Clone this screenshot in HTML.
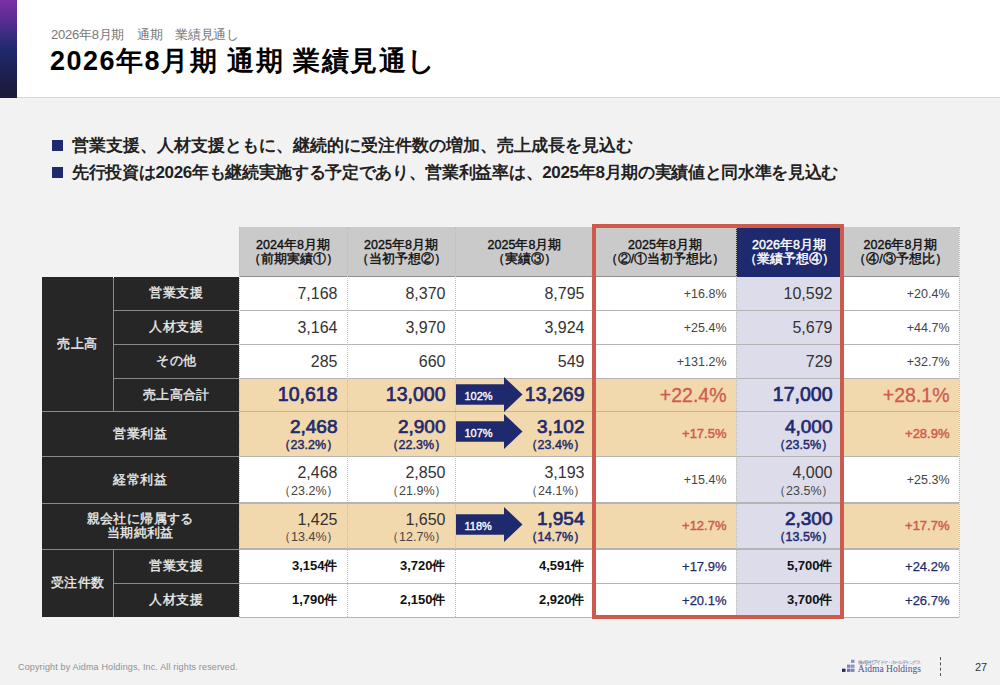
<!DOCTYPE html>
<html lang="ja"><head><meta charset="utf-8">
<style>
*{margin:0;padding:0;box-sizing:border-box}
html,body{width:1000px;height:685px;overflow:hidden}
body{background:#f2f2f2;font-family:"Liberation Sans",sans-serif;position:relative;color:#222}
.a{position:absolute;white-space:nowrap}
#hdr{left:0;top:0;width:1000px;height:98.4px;background:#fff;border-bottom:1.5px solid #d6d6d6}
#bar{left:0;top:0;width:17px;height:97.6px;background:linear-gradient(#7b30a6 0%,#4f2c8e 25%,#1f2a6e 50%,#1d2050 75%,#1b1a38 100%)}
#sub{left:51px;top:26px;font-size:13px;color:#777;letter-spacing:-0.25px}
#ttl{left:50px;top:43px;font-size:27px;font-weight:bold;color:#000;letter-spacing:1.5px}
.bl{left:52px;width:11px;height:11px;background:#1f2a6e}
.bt{left:72px;font-size:17px;font-weight:bold;color:#222}
#copy{left:18px;top:661.5px;font-size:9px;color:#909090;letter-spacing:0.15px}
#pg{left:975px;top:661px;font-size:11px;color:#333}
/* table */
.c{position:absolute;display:flex;align-items:center;justify-content:center;text-align:center}
.lab{background:#262626;color:#ececec;font-weight:normal;-webkit-text-stroke:0.35px #ececec;font-size:12.5px;letter-spacing:0.4px;line-height:14.5px}
.hd{background:#cacaca;color:#111;font-weight:normal;-webkit-text-stroke:0.4px #111;font-size:12.5px;line-height:14px}
.d{justify-content:center;padding-right:9.5px;text-align:right;flex-direction:column;align-items:flex-end}
.num{font-size:16px;color:#333}
.pct{font-size:12.5px;color:#444}
.bign{font-size:19.5px;font-weight:normal;color:#1f2a6e;-webkit-text-stroke:0.7px #1f2a6e;position:relative;top:-0.5px}
.bigr{font-size:19.5px;color:#cf5a50;-webkit-text-stroke:0.3px #cf5a50}
.redp{font-size:13px;font-weight:normal;color:#cf5a50;-webkit-text-stroke:0.45px #cf5a50;position:relative;top:-1px}
.bign2{font-size:19px;font-weight:normal;color:#1f2a6e;-webkit-text-stroke:0.7px #1f2a6e;line-height:20px}
.bigp{font-size:12.5px;font-weight:normal;color:#1f2a6e;-webkit-text-stroke:0.45px #1f2a6e;line-height:15px;position:relative;top:1.2px;left:1.5px}
.num2{font-size:16px;color:#333;line-height:18px;position:relative;top:1px}
.nump{font-size:12.5px;color:#444;line-height:15px;position:relative;top:2.3px;left:2px}
.bluep{font-size:13px;color:#1f2a6e;-webkit-text-stroke:0.25px #1f2a6e}
.ord{font-size:13px;font-weight:bold;color:#111}
</style></head><body>
<div class="a" id="hdr"></div>
<div class="a" id="bar"></div>
<div class="a" id="sub">2026年8月期　通期　業績見通し</div>
<div class="a" id="ttl">2026年8月期 通期 業績見通し</div>
<div class="a bl" style="top:140px"></div>
<div class="a bt" style="top:134px">営業支援、人材支援ともに、継続的に受注件数の増加、売上成長を見込む</div>
<div class="a bl" style="top:167px"></div>
<div class="a bt" style="top:161px;letter-spacing:-0.32px">先行投資は2026年も継続実施する予定であり、営業利益率は、2025年8月期の実績値と同水準を見込む</div>

<div class="c hd" style="left:239px;top:226.5px;width:108px;height:50.3px;">2024年8月期<br>（前期実績①）</div>
<div class="c hd" style="left:347px;top:226.5px;width:108px;height:50.3px;">2025年8月期<br>（当初予想②）</div>
<div class="c hd" style="left:455px;top:226.5px;width:139px;height:50.3px;">2025年8月期<br>（実績③）</div>
<div class="c hd" style="left:594px;top:226.5px;width:142px;height:50.3px;">2025年8月期<br>（②/①当初予想比）</div>
<div class="c hd" style="left:736px;top:226.5px;width:106px;height:50.3px;background:#1f2a6e;color:#fff;-webkit-text-stroke:0.4px #fff;">2026年8月期<br>（業績予想④）</div>
<div class="c hd" style="left:842px;top:226.5px;width:117px;height:50.3px;">2026年8月期<br>（④/③予想比）</div>
<div class="c " style="left:239px;top:276.8px;width:108px;height:33.9px;background:#fff;"></div>
<div class="c " style="left:347px;top:276.8px;width:108px;height:33.9px;background:#fff;"></div>
<div class="c " style="left:455px;top:276.8px;width:139px;height:33.9px;background:#fff;"></div>
<div class="c " style="left:594px;top:276.8px;width:142px;height:33.9px;background:#fff;"></div>
<div class="c " style="left:736px;top:276.8px;width:106px;height:33.9px;background:#dcdcea;"></div>
<div class="c " style="left:842px;top:276.8px;width:117px;height:33.9px;background:#fff;"></div>
<div class="c " style="left:239px;top:310.7px;width:108px;height:33.9px;background:#fff;"></div>
<div class="c " style="left:347px;top:310.7px;width:108px;height:33.9px;background:#fff;"></div>
<div class="c " style="left:455px;top:310.7px;width:139px;height:33.9px;background:#fff;"></div>
<div class="c " style="left:594px;top:310.7px;width:142px;height:33.9px;background:#fff;"></div>
<div class="c " style="left:736px;top:310.7px;width:106px;height:33.9px;background:#dcdcea;"></div>
<div class="c " style="left:842px;top:310.7px;width:117px;height:33.9px;background:#fff;"></div>
<div class="c " style="left:239px;top:344.6px;width:108px;height:33.9px;background:#fff;"></div>
<div class="c " style="left:347px;top:344.6px;width:108px;height:33.9px;background:#fff;"></div>
<div class="c " style="left:455px;top:344.6px;width:139px;height:33.9px;background:#fff;"></div>
<div class="c " style="left:594px;top:344.6px;width:142px;height:33.9px;background:#fff;"></div>
<div class="c " style="left:736px;top:344.6px;width:106px;height:33.9px;background:#dcdcea;"></div>
<div class="c " style="left:842px;top:344.6px;width:117px;height:33.9px;background:#fff;"></div>
<div class="c " style="left:239px;top:378.5px;width:108px;height:33.2px;background:#f2d8ad;"></div>
<div class="c " style="left:347px;top:378.5px;width:108px;height:33.2px;background:#f2d8ad;"></div>
<div class="c " style="left:455px;top:378.5px;width:139px;height:33.2px;background:#f2d8ad;"></div>
<div class="c " style="left:594px;top:378.5px;width:142px;height:33.2px;background:#f2d8ad;"></div>
<div class="c " style="left:736px;top:378.5px;width:106px;height:33.2px;background:#dcdcea;"></div>
<div class="c " style="left:842px;top:378.5px;width:117px;height:33.2px;background:#f2d8ad;"></div>
<div class="c " style="left:239px;top:411.7px;width:108px;height:45.1px;background:#f2d8ad;"></div>
<div class="c " style="left:347px;top:411.7px;width:108px;height:45.1px;background:#f2d8ad;"></div>
<div class="c " style="left:455px;top:411.7px;width:139px;height:45.1px;background:#f2d8ad;"></div>
<div class="c " style="left:594px;top:411.7px;width:142px;height:45.1px;background:#f2d8ad;"></div>
<div class="c " style="left:736px;top:411.7px;width:106px;height:45.1px;background:#dcdcea;"></div>
<div class="c " style="left:842px;top:411.7px;width:117px;height:45.1px;background:#f2d8ad;"></div>
<div class="c " style="left:239px;top:456.8px;width:108px;height:46.2px;background:#fff;"></div>
<div class="c " style="left:347px;top:456.8px;width:108px;height:46.2px;background:#fff;"></div>
<div class="c " style="left:455px;top:456.8px;width:139px;height:46.2px;background:#fff;"></div>
<div class="c " style="left:594px;top:456.8px;width:142px;height:46.2px;background:#fff;"></div>
<div class="c " style="left:736px;top:456.8px;width:106px;height:46.2px;background:#dcdcea;"></div>
<div class="c " style="left:842px;top:456.8px;width:117px;height:46.2px;background:#fff;"></div>
<div class="c " style="left:239px;top:503px;width:108px;height:46px;background:#f2d8ad;"></div>
<div class="c " style="left:347px;top:503px;width:108px;height:46px;background:#f2d8ad;"></div>
<div class="c " style="left:455px;top:503px;width:139px;height:46px;background:#f2d8ad;"></div>
<div class="c " style="left:594px;top:503px;width:142px;height:46px;background:#f2d8ad;"></div>
<div class="c " style="left:736px;top:503px;width:106px;height:46px;background:#dcdcea;"></div>
<div class="c " style="left:842px;top:503px;width:117px;height:46px;background:#f2d8ad;"></div>
<div class="c " style="left:239px;top:549px;width:108px;height:34.1px;background:#fff;"></div>
<div class="c " style="left:347px;top:549px;width:108px;height:34.1px;background:#fff;"></div>
<div class="c " style="left:455px;top:549px;width:139px;height:34.1px;background:#fff;"></div>
<div class="c " style="left:594px;top:549px;width:142px;height:34.1px;background:#fff;"></div>
<div class="c " style="left:736px;top:549px;width:106px;height:34.1px;background:#dcdcea;"></div>
<div class="c " style="left:842px;top:549px;width:117px;height:34.1px;background:#fff;"></div>
<div class="c " style="left:239px;top:583.1px;width:108px;height:34.1px;background:#fff;"></div>
<div class="c " style="left:347px;top:583.1px;width:108px;height:34.1px;background:#fff;"></div>
<div class="c " style="left:455px;top:583.1px;width:139px;height:34.1px;background:#fff;"></div>
<div class="c " style="left:594px;top:583.1px;width:142px;height:34.1px;background:#fff;"></div>
<div class="c " style="left:736px;top:583.1px;width:106px;height:34.1px;background:#dcdcea;"></div>
<div class="c " style="left:842px;top:583.1px;width:117px;height:34.1px;background:#fff;"></div>
<div class="c lab" style="left:41.6px;top:276.8px;width:71.9px;height:134.9px;">売上高</div>
<div class="c lab" style="left:113.5px;top:276.8px;width:125.5px;height:33.9px;">営業支援</div>
<div class="c lab" style="left:113.5px;top:310.7px;width:125.5px;height:33.9px;">人材支援</div>
<div class="c lab" style="left:113.5px;top:344.6px;width:125.5px;height:33.9px;">その他</div>
<div class="c lab" style="left:113.5px;top:378.5px;width:125.5px;height:33.2px;">売上高合計</div>
<div class="c lab" style="left:41.6px;top:411.7px;width:197.4px;height:45.1px;">営業利益</div>
<div class="c lab" style="left:41.6px;top:456.8px;width:197.4px;height:46.2px;">経常利益</div>
<div class="c lab" style="left:41.6px;top:503px;width:197.4px;height:46px;">親会社に帰属する<br>当期純利益</div>
<div class="c lab" style="left:41.6px;top:549px;width:71.9px;height:68.2px;">受注件数</div>
<div class="c lab" style="left:113.5px;top:549px;width:125.5px;height:34.1px;">営業支援</div>
<div class="c lab" style="left:113.5px;top:583.1px;width:125.5px;height:34.1px;">人材支援</div>
<div class="a" style="left:113.5px;top:310.2px;width:125.5px;height:1px;background:#8a8a8a"></div>
<div class="a" style="left:113.5px;top:344.1px;width:125.5px;height:1px;background:#8a8a8a"></div>
<div class="a" style="left:113.5px;top:378px;width:125.5px;height:1px;background:#8a8a8a"></div>
<div class="a" style="left:113.5px;top:582.6px;width:125.5px;height:1px;background:#8a8a8a"></div>
<div class="a" style="left:41.6px;top:411.2px;width:197.4px;height:1px;background:#8a8a8a"></div>
<div class="a" style="left:41.6px;top:456.3px;width:197.4px;height:1px;background:#8a8a8a"></div>
<div class="a" style="left:41.6px;top:502.5px;width:197.4px;height:1px;background:#8a8a8a"></div>
<div class="a" style="left:41.6px;top:548.5px;width:197.4px;height:1px;background:#8a8a8a"></div>
<div class="a" style="left:113px;top:278.3px;width:1px;height:133.4px;background:#8a8a8a"></div>
<div class="a" style="left:113px;top:550px;width:1px;height:67.2px;background:#8a8a8a"></div>
<div class="a" style="left:239px;top:276.2px;width:497px;height:1.2px;background:#8e8e8e"></div>
<div class="a" style="left:842px;top:276.2px;width:117px;height:1.2px;background:#8e8e8e"></div>
<div class="a" style="left:239px;top:310.1px;width:720px;height:1.2px;background:#b4b4b4"></div>
<div class="a" style="left:239px;top:344px;width:720px;height:1.2px;background:#b4b4b4"></div>
<div class="a" style="left:239px;top:377.9px;width:720px;height:1.2px;background:#b4b4b4"></div>
<div class="a" style="left:239px;top:411.1px;width:720px;height:1.2px;background:#b4b4b4"></div>
<div class="a" style="left:239px;top:456.2px;width:720px;height:1.2px;background:#b4b4b4"></div>
<div class="a" style="left:239px;top:502.4px;width:720px;height:1.2px;background:#b4b4b4"></div>
<div class="a" style="left:239px;top:548.4px;width:720px;height:1.2px;background:#b4b4b4"></div>
<div class="a" style="left:239px;top:582.5px;width:720px;height:1.2px;background:#b4b4b4"></div>
<div class="a" style="left:239px;top:616.6px;width:720px;height:1.2px;background:#b4b4b4"></div>
<div class="a" style="left:238.7px;top:226.5px;width:1.2px;height:390.7px;border-left:1.2px dotted #bdbdbd"></div>
<div class="a" style="left:346.7px;top:226.5px;width:1.2px;height:390.7px;border-left:1.2px dotted #bdbdbd"></div>
<div class="a" style="left:454.7px;top:226.5px;width:1.2px;height:390.7px;border-left:1.2px dotted #bdbdbd"></div>
<div class="a" style="left:593.7px;top:226.5px;width:1.2px;height:390.7px;border-left:1.2px dotted #bdbdbd"></div>
<div class="a" style="left:735.7px;top:226.5px;width:1.2px;height:390.7px;border-left:1.2px dotted #bdbdbd"></div>
<div class="a" style="left:841.7px;top:226.5px;width:1.2px;height:390.7px;border-left:1.2px dotted #bdbdbd"></div>
<div class="a" style="left:958.7px;top:226.5px;width:1.2px;height:390.7px;border-left:1.2px dotted #bdbdbd"></div>
<div class="c d" style="left:239px;top:276.8px;width:108px;height:33.9px;"><span class="num">7,168</span></div>
<div class="c d" style="left:347px;top:276.8px;width:108px;height:33.9px;"><span class="num">8,370</span></div>
<div class="c d" style="left:455px;top:276.8px;width:139px;height:33.9px;"><span class="num">8,795</span></div>
<div class="c d" style="left:594px;top:276.8px;width:142px;height:33.9px;"><span class="pct">+16.8%</span></div>
<div class="c d" style="left:736px;top:276.8px;width:106px;height:33.9px;"><span class="num">10,592</span></div>
<div class="c d" style="left:842px;top:276.8px;width:117px;height:33.9px;"><span class="pct">+20.4%</span></div>
<div class="c d" style="left:239px;top:310.7px;width:108px;height:33.9px;"><span class="num">3,164</span></div>
<div class="c d" style="left:347px;top:310.7px;width:108px;height:33.9px;"><span class="num">3,970</span></div>
<div class="c d" style="left:455px;top:310.7px;width:139px;height:33.9px;"><span class="num">3,924</span></div>
<div class="c d" style="left:594px;top:310.7px;width:142px;height:33.9px;"><span class="pct">+25.4%</span></div>
<div class="c d" style="left:736px;top:310.7px;width:106px;height:33.9px;"><span class="num">5,679</span></div>
<div class="c d" style="left:842px;top:310.7px;width:117px;height:33.9px;"><span class="pct">+44.7%</span></div>
<div class="c d" style="left:239px;top:344.6px;width:108px;height:33.9px;"><span class="num">285</span></div>
<div class="c d" style="left:347px;top:344.6px;width:108px;height:33.9px;"><span class="num">660</span></div>
<div class="c d" style="left:455px;top:344.6px;width:139px;height:33.9px;"><span class="num">549</span></div>
<div class="c d" style="left:594px;top:344.6px;width:142px;height:33.9px;"><span class="pct">+131.2%</span></div>
<div class="c d" style="left:736px;top:344.6px;width:106px;height:33.9px;"><span class="num">729</span></div>
<div class="c d" style="left:842px;top:344.6px;width:117px;height:33.9px;"><span class="pct">+32.7%</span></div>
<div class="c d" style="left:239px;top:378.5px;width:108px;height:33.2px;"><span class="bign">10,618</span></div>
<div class="c d" style="left:347px;top:378.5px;width:108px;height:33.2px;"><span class="bign">13,000</span></div>
<div class="c d" style="left:455px;top:378.5px;width:139px;height:33.2px;"><span class="bign">13,269</span></div>
<div class="c d" style="left:594px;top:378.5px;width:142px;height:33.2px;"><span class="bigr">+22.4%</span></div>
<div class="c d" style="left:736px;top:378.5px;width:106px;height:33.2px;"><span class="bign">17,000</span></div>
<div class="c d" style="left:842px;top:378.5px;width:117px;height:33.2px;"><span class="bigr">+28.1%</span></div>
<div class="c d" style="left:239px;top:411.7px;width:108px;height:45.1px;"><span class="bign2">2,468</span><span class="bigp">（23.2%）</span></div>
<div class="c d" style="left:347px;top:411.7px;width:108px;height:45.1px;"><span class="bign2">2,900</span><span class="bigp">（22.3%）</span></div>
<div class="c d" style="left:455px;top:411.7px;width:139px;height:45.1px;"><span class="bign2">3,102</span><span class="bigp">（23.4%）</span></div>
<div class="c d" style="left:594px;top:411.7px;width:142px;height:45.1px;"><span class="redp">+17.5%</span></div>
<div class="c d" style="left:736px;top:411.7px;width:106px;height:45.1px;"><span class="bign2">4,000</span><span class="bigp">（23.5%）</span></div>
<div class="c d" style="left:842px;top:411.7px;width:117px;height:45.1px;"><span class="redp">+28.9%</span></div>
<div class="c d" style="left:239px;top:456.8px;width:108px;height:46.2px;"><span class="num2">2,468</span><span class="nump">（23.2%）</span></div>
<div class="c d" style="left:347px;top:456.8px;width:108px;height:46.2px;"><span class="num2">2,850</span><span class="nump">（21.9%）</span></div>
<div class="c d" style="left:455px;top:456.8px;width:139px;height:46.2px;"><span class="num2">3,193</span><span class="nump">（24.1%）</span></div>
<div class="c d" style="left:594px;top:456.8px;width:142px;height:46.2px;"><span class="pct">+15.4%</span></div>
<div class="c d" style="left:736px;top:456.8px;width:106px;height:46.2px;"><span class="num2">4,000</span><span class="nump">（23.5%）</span></div>
<div class="c d" style="left:842px;top:456.8px;width:117px;height:46.2px;"><span class="pct">+25.3%</span></div>
<div class="c d" style="left:239px;top:503px;width:108px;height:46px;"><span class="num2">1,425</span><span class="nump">（13.4%）</span></div>
<div class="c d" style="left:347px;top:503px;width:108px;height:46px;"><span class="num2">1,650</span><span class="nump">（12.7%）</span></div>
<div class="c d" style="left:455px;top:503px;width:139px;height:46px;"><span class="bign2">1,954</span><span class="bigp">（14.7%）</span></div>
<div class="c d" style="left:594px;top:503px;width:142px;height:46px;"><span class="redp">+12.7%</span></div>
<div class="c d" style="left:736px;top:503px;width:106px;height:46px;"><span class="bign2">2,300</span><span class="bigp">（13.5%）</span></div>
<div class="c d" style="left:842px;top:503px;width:117px;height:46px;"><span class="redp">+17.7%</span></div>
<div class="c d" style="left:239px;top:549px;width:108px;height:34.1px;"><span class="ord">3,154件</span></div>
<div class="c d" style="left:347px;top:549px;width:108px;height:34.1px;"><span class="ord">3,720件</span></div>
<div class="c d" style="left:455px;top:549px;width:139px;height:34.1px;"><span class="ord">4,591件</span></div>
<div class="c d" style="left:594px;top:549px;width:142px;height:34.1px;"><span class="bluep">+17.9%</span></div>
<div class="c d" style="left:736px;top:549px;width:106px;height:34.1px;"><span class="ord">5,700件</span></div>
<div class="c d" style="left:842px;top:549px;width:117px;height:34.1px;"><span class="bluep">+24.2%</span></div>
<div class="c d" style="left:239px;top:583.1px;width:108px;height:34.1px;"><span class="ord">1,790件</span></div>
<div class="c d" style="left:347px;top:583.1px;width:108px;height:34.1px;"><span class="ord">2,150件</span></div>
<div class="c d" style="left:455px;top:583.1px;width:139px;height:34.1px;"><span class="ord">2,920件</span></div>
<div class="c d" style="left:594px;top:583.1px;width:142px;height:34.1px;"><span class="bluep">+20.1%</span></div>
<div class="c d" style="left:736px;top:583.1px;width:106px;height:34.1px;"><span class="ord">3,700件</span></div>
<div class="c d" style="left:842px;top:583.1px;width:117px;height:34.1px;"><span class="bluep">+26.7%</span></div>
<svg class="a" style="left:456px;top:377.3px" width="67" height="35" viewBox="0 0 67 35"><path d="M0 7.2H48V0L66.5 17.5L48 35V27.8H0Z" fill="#1f2a6e"/><text x="8.5" y="22.6" style="font-family:'Liberation Sans',sans-serif;font-size:11px" stroke="#fff" stroke-width="0.35" fill="#fff">102%</text></svg>
<svg class="a" style="left:456px;top:414.3px" width="67" height="35" viewBox="0 0 67 35"><path d="M0 7.2H48V0L66.5 17.5L48 35V27.8H0Z" fill="#1f2a6e"/><text x="8.5" y="22.6" style="font-family:'Liberation Sans',sans-serif;font-size:11px" stroke="#fff" stroke-width="0.35" fill="#fff">107%</text></svg>
<svg class="a" style="left:456px;top:506.7px" width="67" height="35" viewBox="0 0 67 35"><path d="M0 7.2H48V0L66.5 17.5L48 35V27.8H0Z" fill="#1f2a6e"/><text x="8.5" y="22.6" style="font-family:'Liberation Sans',sans-serif;font-size:11px" stroke="#fff" stroke-width="0.35" fill="#fff">118%</text></svg>
<div class="a" style="left:592px;top:224px;width:252px;height:395px;border:4px solid #cc5a4d"></div>

<div class="a" id="copy">Copyright by Aidma Holdings, Inc. All rights reserved.</div>
<div class="a" style="left:940px;top:657px;width:1px;height:19px;border-left:1.5px dashed #555"></div>
<svg class="a" style="left:840px;top:655px" width="90" height="22" viewBox="0 0 90 22">
<rect x="2" y="13.7" width="3.5" height="3.2" fill="#1d2a6c"/>
<rect x="7" y="13.7" width="3.5" height="3.2" fill="#6873b0"/>
<rect x="11" y="13.7" width="3.5" height="3.2" fill="#7a85bd"/>
<rect x="7" y="9.6" width="3.5" height="3.2" fill="#7a85bd"/>
<rect x="11" y="9.6" width="3.5" height="3.2" fill="#8a93c6"/>
<rect x="11" y="4.7" width="3.5" height="3.2" fill="#8a93c6"/>
<text x="18" y="8.5" font-size="5" fill="#6a70a0" style="font-family:'Liberation Serif',serif;font-size:5px" textLength="63">株式会社アイドマ・ホールディングス</text>
<text x="17.8" y="16.8" style="font-family:'Liberation Serif',serif;font-size:9.4px" fill="#4a5590" textLength="63.2" lengthAdjust="spacingAndGlyphs">Aidma Holdings</text>
</svg>
<div class="a" id="pg">27</div>
</body></html>
